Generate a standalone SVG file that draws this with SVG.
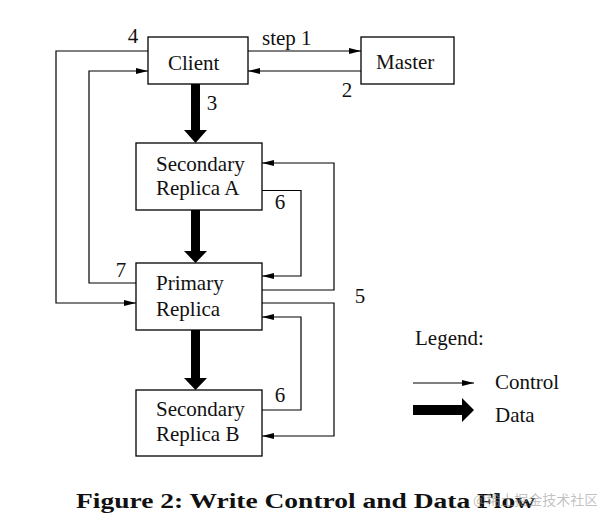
<svg xmlns="http://www.w3.org/2000/svg" width="597" height="523" viewBox="0 0 597 523">
<style>
.box{fill:#fff;stroke:#000;stroke-width:1.3}
.t{font-family:"Liberation Serif","Times New Roman",serif;font-size:21px;fill:#111}
.c{fill:none;stroke:#000;stroke-width:1.2;marker-end:url(#ah)}
.thick{fill:#000;stroke:none}
.cap{font-family:"Liberation Serif","Times New Roman",serif;font-size:20px;font-weight:bold;fill:#111}
.wm{font-family:"Noto Sans CJK SC","Liberation Sans",sans-serif;font-size:14px;fill:#999;fill-opacity:0.6}
</style>
<defs>
<marker id="ah" viewBox="0 0 12 6" refX="12" refY="3" markerWidth="12" markerHeight="6" markerUnits="userSpaceOnUse" orient="auto">
<path d="M0,0 L12,3 L0,6 z" fill="#000"/>
</marker>
</defs>
<rect width="597" height="523" fill="#fff"/>
<g id="connectors">
<path class="c" d="M248,51 H361"/>
<path class="c" d="M361,71 H248"/>
<path class="c" d="M148,51 H56 V303 H136"/>
<path class="c" d="M136,283 H89 V71 H148"/>
<path class="c" d="M262,290 H334 V163 H262"/>
<path class="c" d="M262,303 H334 V436 H262"/>
<path class="c" d="M262,190.5 H301 V276 H262"/>
<path class="c" d="M262,410 H301 V317 H262"/>
<path class="thick" d="M191,84 H200 V130 H207 L195.5,143 L184,130 H191 Z"/>
<path class="thick" d="M191,210 H200 V251 H207 L195.5,263 L184,251 H191 Z"/>
<path class="thick" d="M191,330 H200 V378 H207 L195.5,390 L184,378 H191 Z"/>
</g>
<g id="labels">
<text class="t" x="133" y="43" text-anchor="middle">4</text>
<text class="t" x="262" y="45">step 1</text>
<text class="t" x="347" y="97" text-anchor="middle">2</text>
<text class="t" x="212" y="110" text-anchor="middle">3</text>
<text class="t" x="280" y="209" text-anchor="middle">6</text>
<text class="t" x="121" y="277" text-anchor="middle">7</text>
<text class="t" x="360" y="303" text-anchor="middle">5</text>
<text class="t" x="280" y="402" text-anchor="middle">6</text>
</g>
<g id="client">
<rect class="box" x="148" y="37" width="100" height="47"/>
<text class="t" x="168" y="70">Client</text>
</g>
<g id="master">
<rect class="box" x="361" y="37" width="93" height="47"/>
<text class="t" x="376" y="69">Master</text>
</g>
<g id="secondaryA">
<rect class="box" x="136" y="143" width="126" height="67"/>
<text class="t" x="156" y="171">Secondary</text>
<text class="t" x="156" y="195">Replica A</text>
</g>
<g id="primary">
<rect class="box" x="136" y="263" width="126" height="67"/>
<text class="t" x="156" y="290">Primary</text>
<text class="t" x="156" y="316">Replica</text>
</g>
<g id="secondaryB">
<rect class="box" x="136" y="390" width="126" height="66"/>
<text class="t" x="156" y="416">Secondary</text>
<text class="t" x="156" y="441">Replica B</text>
</g>
<g id="legend">
<text class="t" x="415" y="345">Legend:</text>
<path class="c" d="M413,383 H474"/>
<text class="t" x="495" y="389">Control</text>
<path class="thick" d="M413,405 H462 V398 L474,410 L462,422 V415 H413 Z"/>
<text class="t" x="495" y="422">Data</text>
</g>
<text class="cap" x="76" y="508" textLength="459" lengthAdjust="spacingAndGlyphs">Figure 2: Write Control and Data Flow</text>
<text class="wm" x="473" y="505">@稀土掘金技术社区</text>
</svg>
